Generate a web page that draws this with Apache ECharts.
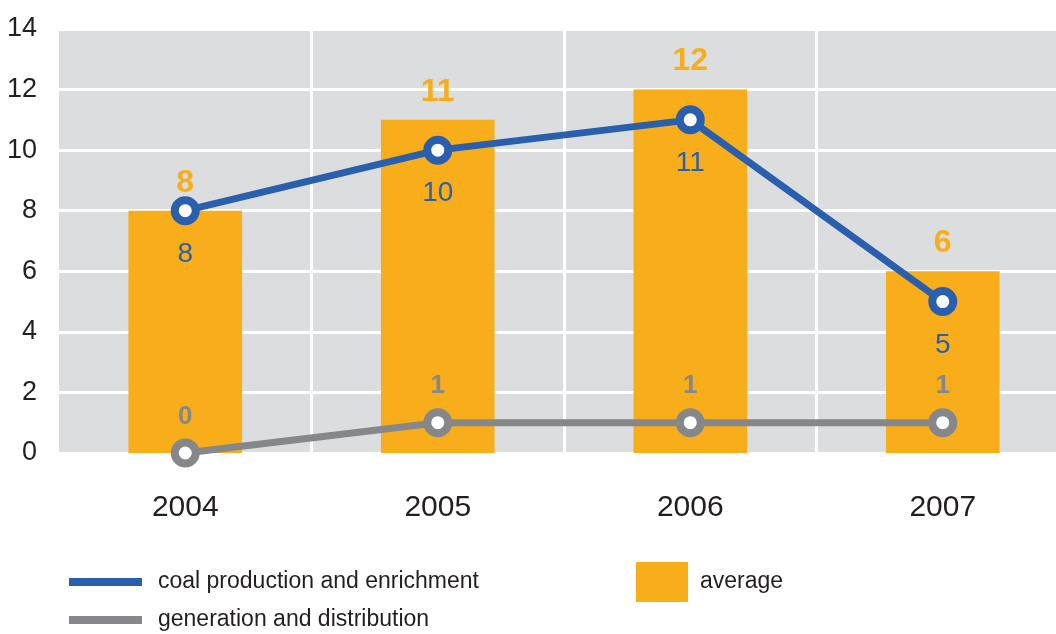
<!DOCTYPE html>
<html>
<head>
<meta charset="utf-8">
<script src="https://cdn.jsdelivr.net/npm/echarts@6/dist/echarts.min.js"></script>
<style>
  html, body { margin: 0; padding: 0; background: #ffffff; }
  #chart { width: 1056px; height: 634px; }
</style>
</head>
<body>
<div id="chart"></div>
<script>
// Yearly figures
const years = ['2004', '2005', '2006', '2007'];
const averageValues = [8, 11, 12, 6];
const coalValues = [8, 10, 11, 5];
const generationValues = [0, 1, 1, 1];
const yTicks = { min: 0, max: 14, step: 2 };

const seriesNames = {
  coal: 'coal production and enrichment',
  generation: 'generation and distribution',
  average: 'average'
};

const FONT = '"Liberation Sans", Arial, Helvetica, sans-serif';
const ORANGE = '#f8ae1b';
const BLUE = '#2a5fad';
const GREY = '#86878a';
const TEXT = '#231f20';

const chart = echarts.init(document.getElementById('chart'), null, { renderer: 'canvas' });

function lineSeries(name, values, color, labelPos, labelStyle) {
  return {
    name: name,
    type: 'line',
    data: values,
    symbol: 'circle',
    symbolSize: 21,
    lineStyle: { color: color, width: 7 },
    itemStyle: { color: '#ffffff', borderColor: color, borderWidth: 8 },
    label: Object.assign({
      show: true,
      position: labelPos,
      fontFamily: FONT,
      color: color
    }, labelStyle),
    z: 3
  };
}

const legendText = (padLeft) => ({
  fontSize: 23, color: TEXT, fontFamily: FONT, lineHeight: 24, padding: [0, 0, 0, padLeft]
});

const option = {
  animation: false,
  backgroundColor: '#ffffff',
  textStyle: { fontFamily: FONT },
  grid: {
    left: 59, top: 29, right: -13, bottom: 181,
    outerBoundsMode: 'none',
    containLabel: false,
    show: true, backgroundColor: '#dcdddf', borderWidth: 0
  },
  legend: [
    {
      left: 69, top: 570, orient: 'vertical', padding: 0,
      itemWidth: 73, itemHeight: 8,
      textStyle: legendText(11),
      data: [{ name: seriesNames.coal, icon: 'rect', itemStyle: { color: BLUE, borderWidth: 0 } }]
    },
    {
      left: 69, top: 608, orient: 'vertical', padding: 0,
      itemWidth: 73, itemHeight: 8,
      textStyle: legendText(11),
      data: [{ name: seriesNames.generation, icon: 'rect', itemStyle: { color: GREY, borderWidth: 0 } }]
    },
    {
      left: 636, top: 562, orient: 'vertical', padding: 0,
      itemWidth: 52, itemHeight: 40,
      textStyle: legendText(7),
      data: [{ name: seriesNames.average, icon: 'rect', itemStyle: { color: ORANGE, borderWidth: 0 } }]
    }
  ],
  xAxis: {
    type: 'category',
    data: years,
    boundaryGap: true,
    axisLine: { show: false },
    axisTick: { show: false },
    axisLabel: { fontSize: 30, color: TEXT, fontFamily: FONT, margin: 40 },
    splitLine: {
      show: true,
      // no divider on the left edge of the plot
      interval: (index) => index > 0,
      lineStyle: { color: '#ffffff', width: 3 }
    }
  },
  yAxis: {
    type: 'value',
    min: yTicks.min,
    max: yTicks.max,
    interval: yTicks.step,
    axisLine: { show: false },
    axisTick: { show: false },
    axisLabel: {
      fontSize: 27, color: TEXT, fontFamily: FONT, margin: 22,
      verticalAlign: 'middle', padding: [0, 0, 18, 0]
    },
    splitLine: { show: true, lineStyle: { color: '#ffffff', width: 3 } }
  },
  series: [
    {
      name: seriesNames.average,
      type: 'bar',
      data: averageValues,
      barWidth: '45%',
      itemStyle: { color: ORANGE },
      label: {
        show: true, position: 'top', distance: 12,
        color: ORANGE, fontSize: 32, fontWeight: 'bold', fontFamily: FONT
      },
      z: 2
    },
    lineSeries(seriesNames.generation, generationValues, GREY, 'top',
      { fontSize: 26, fontWeight: 'bold', distance: 9 }),
    lineSeries(seriesNames.coal, coalValues, BLUE, 'bottom',
      { fontSize: 28, distance: 15 })
  ]
};

chart.setOption(option);
</script>
</body>
</html>
